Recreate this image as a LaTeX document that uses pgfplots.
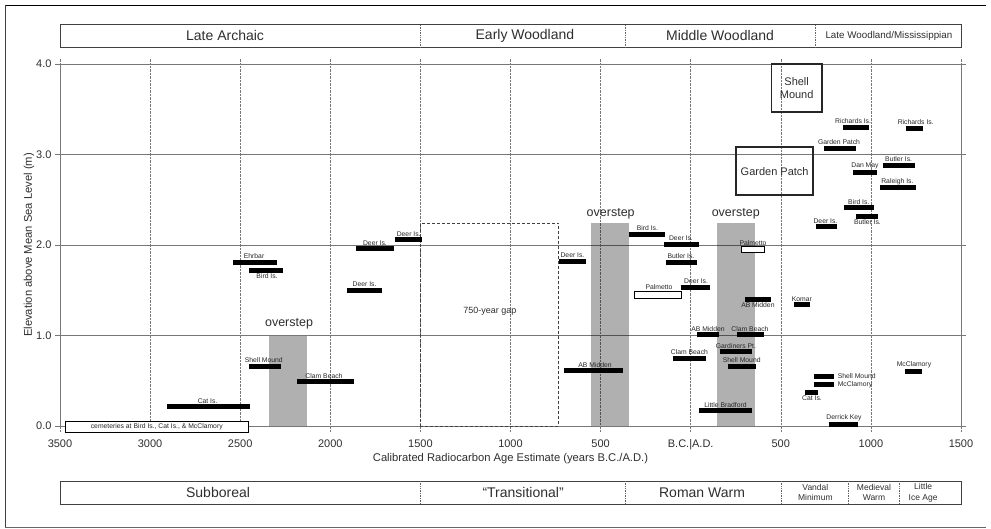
\documentclass[border=0pt]{standalone}
\usepackage{pgfplots}
\pgfplotsset{compat=1.18}
\usepackage{fontspec}
\setmainfont{Liberation Sans}
\definecolor{txt}{HTML}{2E2E2E}
\definecolor{ln}{HTML}{777777}
\tikzset{lab/.style={font=\fontsize{6.8}{8}\selectfont, text=black!85, inner sep=0.8pt},
  big/.style={font=\fontsize{14}{16}\selectfont, text=txt},
  sep/.style={densely dotted, black!60, line width=0.7pt}}
% bar: x1, x2, y, label x, label
\newcommand{\barA}[5]{\addplot[black,line width=5pt,forget plot] coordinates {(#1,#3) (#2,#3)};
  \node[lab,anchor=south,yshift=2.5pt] at (axis cs:#4,#3) {#5};}
\newcommand{\barB}[5]{\addplot[black,line width=5pt,forget plot] coordinates {(#1,#3) (#2,#3)};
  \node[lab,anchor=north,yshift=-2.5pt] at (axis cs:#4,#3) {#5};}
\newcommand{\barR}[4]{\addplot[black,line width=5pt,forget plot] coordinates {(#1,#3) (#2,#3)};
  \node[lab,anchor=west,xshift=2.5pt] at (axis cs:#2,#3) {#4};}
\begin{document}
\begin{tikzpicture}
\useasboundingbox (0,0) rectangle (991pt,528pt);
\begin{axis}[
  scale only axis, width=901pt, height=362pt,
  at={(60pt,102pt)}, anchor=south west,
  xmin=-3500, xmax=1500, ymin=0, ymax=4,
  xtick={-3500,-3000,...,1500},
  xticklabels={3500,3000,2500,2000,1500,1000,500,B.C.|A.D.,500,1000,1500},
  ytick={0,1,2,3,4}, yticklabels={0.0,1.0,2.0,3.0,4.0},
  grid=major,
  x grid style={densely dotted, ln, line width=0.6pt},
  y grid style={ln, line width=0.8pt},
  axis line style={ln, line width=0.8pt},
  tick align=outside, major tick length=5pt,
  xtick style={densely dotted, ln, line width=0.6pt},
  ytick style={ln, line width=0.8pt},
  xticklabel shift=5pt,
  xticklabel style={font=\fontsize{11}{13}\selectfont, text=txt},
  yticklabel style={font=\fontsize{11}{13}\selectfont, text=txt},
  xlabel={Calibrated Radiocarbon Age Estimate (years B.C./A.D.)},
  ylabel={Elevation above Mean Sea Level (m)},
  label style={font=\fontsize{11.2}{13}\selectfont, text=txt},
  xlabel style={yshift=3pt},
  ylabel style={yshift=-5pt},
  clip=false,
]
% overstep regions
\addplot[fill=black, fill opacity=0.31, draw=none] coordinates {(-2340,0) (-2129,0) (-2129,1) (-2340,1)} -- cycle;
\addplot[fill=black, fill opacity=0.31, draw=none] coordinates {(-553,0) (-342,0) (-342,2.24) (-553,2.24)} -- cycle;
\addplot[fill=black, fill opacity=0.31, draw=none] coordinates {(146,0) (357,0) (357,2.24) (146,2.24)} -- cycle;
\node[font=\fontsize{12.5}{14}\selectfont, text=txt] at (axis cs:-2229,1.13) {overstep};
\node[font=\fontsize{12.5}{14}\selectfont, text=txt] at (axis cs:-444,2.34) {overstep};
\node[font=\fontsize{12.5}{14}\selectfont, text=txt] at (axis cs:250,2.34) {overstep};
% gap
\addplot[densely dashed, black!75, line width=0.8pt] coordinates {(-1500,0) (-733,0) (-733,2.24) (-1500,2.24)} -- cycle;
\node[font=\fontsize{9}{11}\selectfont, text=txt] at (axis cs:-1114,1.27) {750-year gap};
% boxes
\draw[black!85, line width=1.6pt] (axis cs:449,3.47) rectangle (axis cs:727,4.0);
\node[font=\fontsize{11}{12.7}\selectfont, text=txt, align=center] at (axis cs:588,3.735) {Shell\\Mound};
\draw[black!85, line width=1.6pt] (axis cs:251,2.55) rectangle (axis cs:680,3.08);
\node[font=\fontsize{11}{13}\selectfont, text=txt] at (axis cs:466,2.81) {Garden Patch};
% white boxes
\addplot[draw=black, fill=white, line width=0.8pt] coordinates {(-3469,-0.07) (-2457,-0.07) (-2457,0.05) (-3469,0.05)} -- cycle;
\node[lab] at (axis cs:-2963,-0.01) {cemeteries at Bird Is., Cat Is., \& McClamory};
\addplot[draw=black, fill=white, line width=0.8pt] coordinates {(-313,1.41) (-52,1.41) (-52,1.49) (-313,1.49)} -- cycle;
\node[lab,anchor=south,yshift=0.5pt] at (axis cs:-176,1.49) {Palmetto};
\addplot[draw=black, fill=white, line width=0.8pt] coordinates {(279,1.92) (411,1.92) (411,1.98) (279,1.98)} -- cycle;
\node[lab,anchor=south,yshift=0.5pt] at (axis cs:346,1.98) {Palmetto};
% bars
\barA{-2906}{-2446}{0.21}{-2681}{Cat Is.}
\barA{-2451}{-2274}{0.66}{-2369}{Shell Mound}
\barA{-2185}{-1868}{0.49}{-2035}{Clam Beach}
\barA{-2540}{-2296}{1.81}{-2423}{Ehrbar}
\barB{-2451}{-2263}{1.72}{-2351}{Bird Is.}
\barA{-1907}{-1713}{1.50}{-1810}{Deer Is.}
\barA{-1857}{-1647}{1.96}{-1752}{Deer Is.}
\barA{-1641}{-1491}{2.06}{-1565}{Deer Is.}
\barA{-733}{-581}{1.82}{-656}{Deer Is.}
\barA{-701}{-374}{0.61}{-531}{AB Midden}
\barA{-341}{-141}{2.12}{-240}{Bird Is.}
\barA{-148}{48}{2.01}{-54}{Deer Is.}
\barA{-139}{33}{1.81}{-54}{Butler Is.}
\barA{-56}{107}{1.53}{30}{Deer Is.}
\barB{301}{446}{1.40}{373}{AB Midden}
\barA{572}{664}{1.34}{617}{Komar}
\barA{35}{155}{1.01}{96}{AB Midden}
\barA{255}{408}{1.01}{329}{Clam Beach}
\barA{161}{342}{0.82}{251}{Gardiners Pt.}
\barA{-100}{83}{0.75}{-7}{Clam Beach}
\barA{209}{362}{0.66}{283}{Shell Mound}
\barA{48}{342}{0.17}{193}{Little Bradford}
\barR{683}{797}{0.55}{Shell Mound}
\barR{683}{797}{0.46}{McClamory}
\barB{636}{708}{0.37}{673}{Cat Is.}
\barA{766}{930}{0.02}{851}{Derrick Key}
\barA{1189}{1285}{0.60}{1239}{McClamory}
\barA{694}{810}{2.20}{748}{Deer Is.}
\barA{851}{1019}{2.41}{933}{Bird Is.}
\barB{917}{1038}{2.32}{981}{Butler Is.}
\barA{1050}{1250}{2.63}{1147}{Raleigh Is.}
\barA{902}{1032}{2.80}{967}{Dan May}
\barA{1069}{1245}{2.88}{1154}{Butler Is.}
\barA{741}{916}{3.07}{823}{Garden Patch}
\barA{847}{991}{3.30}{901}{Richards Is.}
\barA{1193}{1287}{3.29}{1249}{Richards Is.}
% period boxes
\draw[black!75, line width=1pt] (axis cs:-3500,4.18) rectangle (axis cs:1500,4.44);
\draw[sep] (axis cs:-1500,4.18) -- (axis cs:-1500,4.44);
\draw[sep] (axis cs:-360,4.18) -- (axis cs:-360,4.44);
\draw[sep] (axis cs:690,4.18) -- (axis cs:690,4.44);
\node[big] at (axis cs:-2584,4.31) {Late Archaic};
\node[big] at (axis cs:-920,4.31) {Early Woodland};
\node[big] at (axis cs:163,4.31) {Middle Woodland};
\node[font=\fontsize{9.8}{11}\selectfont, text=txt] at (axis cs:1100,4.31) {Late Woodland/Mississippian};
\draw[black!75, line width=1pt] (axis cs:-3500,-0.608) rectangle (axis cs:1500,-0.865);
\draw[sep] (axis cs:-1500,-0.608) -- (axis cs:-1500,-0.865);
\draw[sep] (axis cs:-360,-0.608) -- (axis cs:-360,-0.865);
\draw[sep] (axis cs:505,-0.608) -- (axis cs:505,-0.865);
\draw[sep] (axis cs:877,-0.608) -- (axis cs:877,-0.865);
\draw[sep] (axis cs:1156,-0.608) -- (axis cs:1156,-0.865);
\node[big] at (axis cs:-2623,-0.735) {Subboreal};
\node[big] at (axis cs:-930,-0.735) {“Transitional”};
\node[big] at (axis cs:63,-0.735) {Roman Warm};
\node[font=\fontsize{8.5}{10.5}\selectfont, text=txt, align=center] at (axis cs:692,-0.737) {Vandal\\Minimum};
\node[font=\fontsize{8.5}{10.5}\selectfont, text=txt, align=center] at (axis cs:1017,-0.737) {Medieval\\Warm};
\node[font=\fontsize{8.5}{10.5}\selectfont, text=txt, align=center] at (axis cs:1290,-0.737) {Little\\Ice Age};
\end{axis}
\draw[black, line width=1.6pt] (5pt,522.5pt) -- (986pt,522.5pt);
\draw[black!75, line width=1pt] (5pt,523pt) -- (5pt,1pt);
\draw[black!60, line width=1pt] (5pt,1pt) -- (986pt,1pt);
\end{tikzpicture}
\end{document}
